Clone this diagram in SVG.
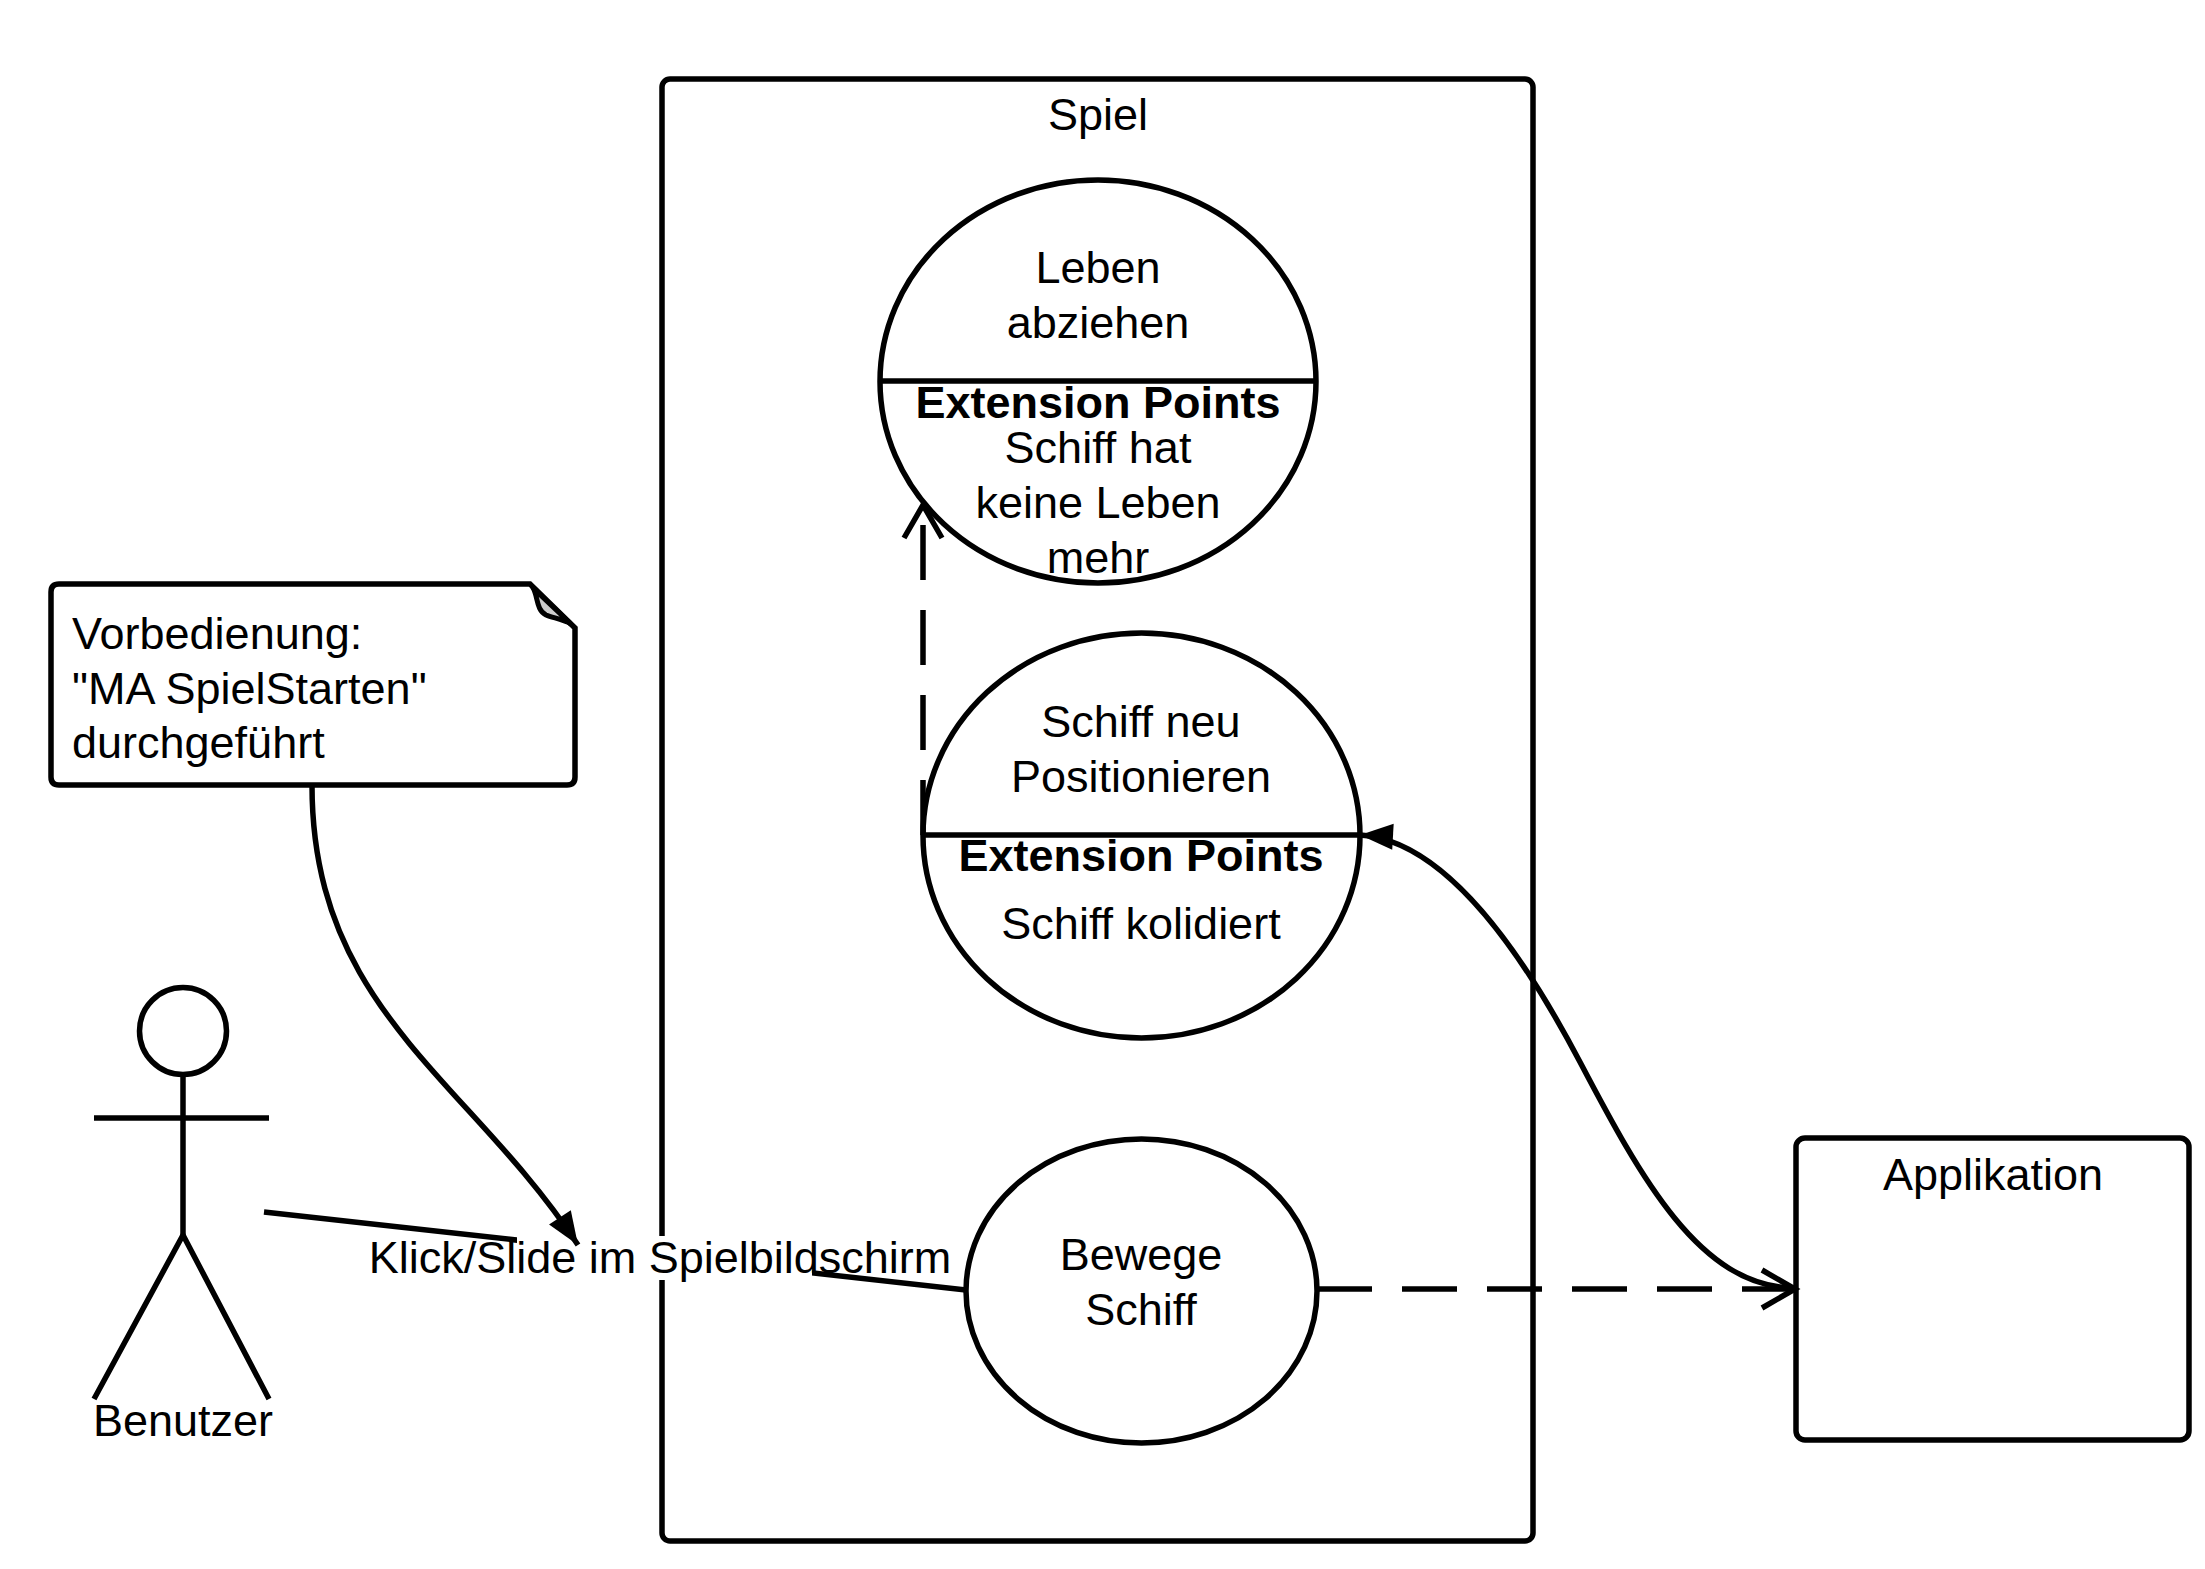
<svg xmlns="http://www.w3.org/2000/svg" width="2205" height="1569" viewBox="0 0 2205 1569">
<style>
  .ln { fill: none; stroke: #000; stroke-width: 5.5; stroke-linecap: butt; stroke-linejoin: round; }
  .shape { fill: #fff; stroke: #000; stroke-width: 5.5; }
  .t { font-family: "Liberation Sans", Arial, sans-serif; font-size: 45px; fill: #000; }
  .c { text-anchor: middle; }
  .b { font-weight: bold; }
  .dash { stroke-dasharray: 55 30; }
</style>
<defs>
  <marker id="open" markerUnits="userSpaceOnUse" markerWidth="60" markerHeight="60" viewBox="-40 -30 50 60" refX="0" refY="0" orient="auto" overflow="visible">
    <path d="M-33,-19 L0,0 L-33,19" fill="none" stroke="#000" stroke-width="5.5"/>
  </marker>
  <marker id="filled" markerUnits="userSpaceOnUse" markerWidth="60" markerHeight="60" viewBox="-40 -30 50 60" refX="0" refY="0" orient="auto" overflow="visible">
    <path d="M-33,-13 L0,0 L-33,13 Z" fill="#000" stroke="none"/>
  </marker>
</defs>
<rect width="2205" height="1569" fill="#fff"/>

<g id="spiel">
  <rect class="shape" x="662" y="79" width="871" height="1462" rx="8" ry="8"/>
  <text class="t c" x="1098" y="130">Spiel</text>
</g>

<g id="leben-abziehen">
  <ellipse class="shape" cx="1098" cy="381.5" rx="218" ry="201.5"/>
  <line class="ln" x1="880" y1="381" x2="1316" y2="381"/>
  <text class="t c" x="1098" y="283">Leben</text>
  <text class="t c" x="1098" y="338">abziehen</text>
  <text class="t c b" x="1098" y="418">Extension Points</text>
  <text class="t c" x="1098" y="463">Schiff hat</text>
  <text class="t c" x="1098" y="518">keine Leben</text>
  <text class="t c" x="1098" y="573">mehr</text>
</g>

<g id="schiff-neu-positionieren">
  <ellipse class="shape" cx="1141.5" cy="835.5" rx="218.5" ry="202.5"/>
  <line class="ln" x1="923" y1="835" x2="1360" y2="835"/>
  <text class="t c" x="1141" y="737">Schiff neu</text>
  <text class="t c" x="1141" y="792">Positionieren</text>
  <text class="t c b" x="1141" y="871">Extension Points</text>
  <text class="t c" x="1141" y="939">Schiff kolidiert</text>
</g>

<g id="bewege-schiff">
  <ellipse class="shape" cx="1141.5" cy="1291" rx="175.5" ry="152"/>
  <text class="t c" x="1141" y="1270">Bewege</text>
  <text class="t c" x="1141" y="1325">Schiff</text>
</g>

<g id="applikation">
  <rect class="shape" x="1796" y="1138" width="393" height="302" rx="9" ry="9"/>
  <text class="t c" x="1993" y="1190">Applikation</text>
</g>

<g id="note">
  <path class="shape" d="M59,584 L530,584 L575,628 L575,777 Q575,785 567,785 L59,785 Q51,785 51,777 L51,592 Q51,584 59,584 Z"/>
  <path d="M533,588 C538,596 536,610 546,615 C553,618 562,619 571,624 Z" fill="#ccc" stroke="#000" stroke-width="5" stroke-linejoin="round"/>
  <text class="t" x="72" y="649">Vorbedienung:</text>
  <text class="t" x="72" y="704">"MA SpielStarten"</text>
  <text class="t" x="72" y="758">durchgeführt</text>
</g>

<g id="benutzer">
  <circle class="shape" cx="183" cy="1031" r="43.5"/>
  <line class="ln" x1="94" y1="1118" x2="269" y2="1118"/>
  <line class="ln" x1="183" y1="1074" x2="183" y2="1235"/>
  <polyline class="ln" points="94,1399 183,1235 269,1399"/>
  <text class="t c" x="183" y="1436">Benutzer</text>
</g>

<g id="connectors">
  <path class="ln dash" d="M923,835 L923,505" marker-end="url(#open)"/>
  <path class="ln dash" d="M1317,1289 L1795,1289" marker-end="url(#open)"/>
  <path class="ln" d="M1795,1288 C1700,1288 1640,1176 1580,1062 C1530,967 1450,840 1360,835" marker-end="url(#filled)"/>
  <path class="ln" d="M264,1212 L966,1290"/>
  <g id="assoc-label">
    <rect x="517" y="1236" width="295" height="44" fill="#fff"/>
    <text class="t c" x="660" y="1273">Klick/Slide im Spielbildschirm</text>
  </g>
  <path class="ln" d="M312,785 C312,1010 470,1080 578,1245" marker-end="url(#filled)"/>
</g>
</svg>
